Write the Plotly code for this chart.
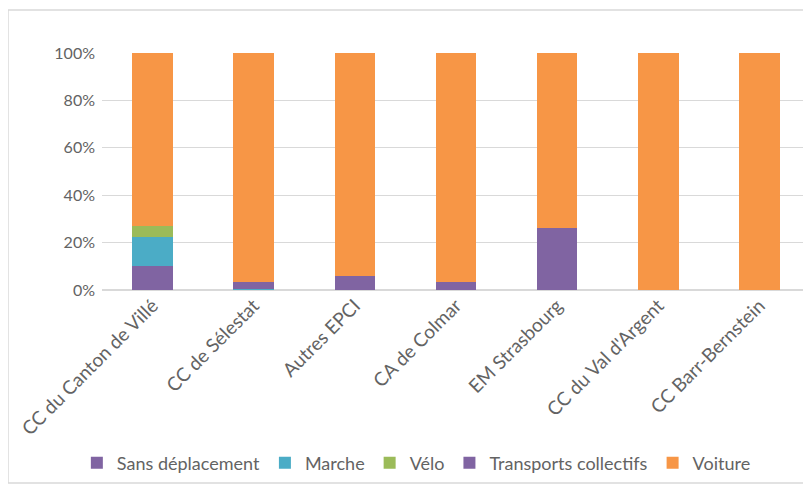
import plotly.graph_objects as go

territoires = ["CC du Canton de Villé", "CC de Sélestat", "Autres EPCI", "CA de Colmar",
               "EM Strasbourg", "CC du Val d'Argent", "CC Barr-Bernstein"]

sans_deplacement = [0.10, 0.0, 0.0, 0.0, 0.0, 0.0, 0.0]
marche = [0.123, 0.003, 0.0, 0.0, 0.0, 0.0, 0.0]
velo = [0.045, 0.0, 0.0, 0.0, 0.0, 0.0, 0.0]
transports_collectifs = [0.0, 0.03, 0.057, 0.035, 0.263, 0.0, 0.0]
voiture = [0.732, 0.967, 0.943, 0.965, 0.737, 1.0, 1.0]

series = [
    ("Sans déplacement", sans_deplacement, "#8064A2"),
    ("Marche", marche, "#4BACC6"),
    ("Vélo", velo, "#9BBB59"),
    ("Transports collectifs", transports_collectifs, "#8064A2"),
    ("Voiture", voiture, "#F79646"),
]

fig = go.Figure()
for name, vals, col in series:
    fig.add_trace(go.Bar(x=territoires, y=vals, name=name, marker_color=col,
                         marker_line_width=0))

grey = "#636363"
# page body has an 8px margin, so the figure is a bit smaller than the window
fig.update_layout(
    barmode="stack",
    bargap=0.6,
    width=803, height=478,
    margin=dict(l=94, r=1, t=45, b=196),
    plot_bgcolor="white", paper_bgcolor="white",
    font=dict(family="Lato, Noto Sans, sans-serif", size=18, color=grey),
    showlegend=True,
    legend=dict(orientation="h", x=0.444, xanchor="center", y=-0.73, yanchor="middle",
                traceorder="normal", font=dict(size=18, color=grey),
                itemwidth=30, tracegroupgap=0),
    xaxis=dict(tickangle=-45, showgrid=False, showline=False, ticks="",
               tickfont=dict(size=19, color=grey)),
    yaxis=dict(range=[0, 1], tickformat=".0%", dtick=0.2, gridcolor="#D9D9D9",
               gridwidth=1, zeroline=True, zerolinecolor="#D9D9D9", showline=False,
               ticks="", ticklabelstandoff=6, tickfont=dict(size=16, color=grey)),
    shapes=[dict(type="rect", xref="paper", yref="paper",
                 x0=-0.1328, x1=1.1, y0=-0.814, y1=1.181,
                 line=dict(color="#D9D9D9", width=1.5), layer="below")],
)

fig.write_html("out.html")
